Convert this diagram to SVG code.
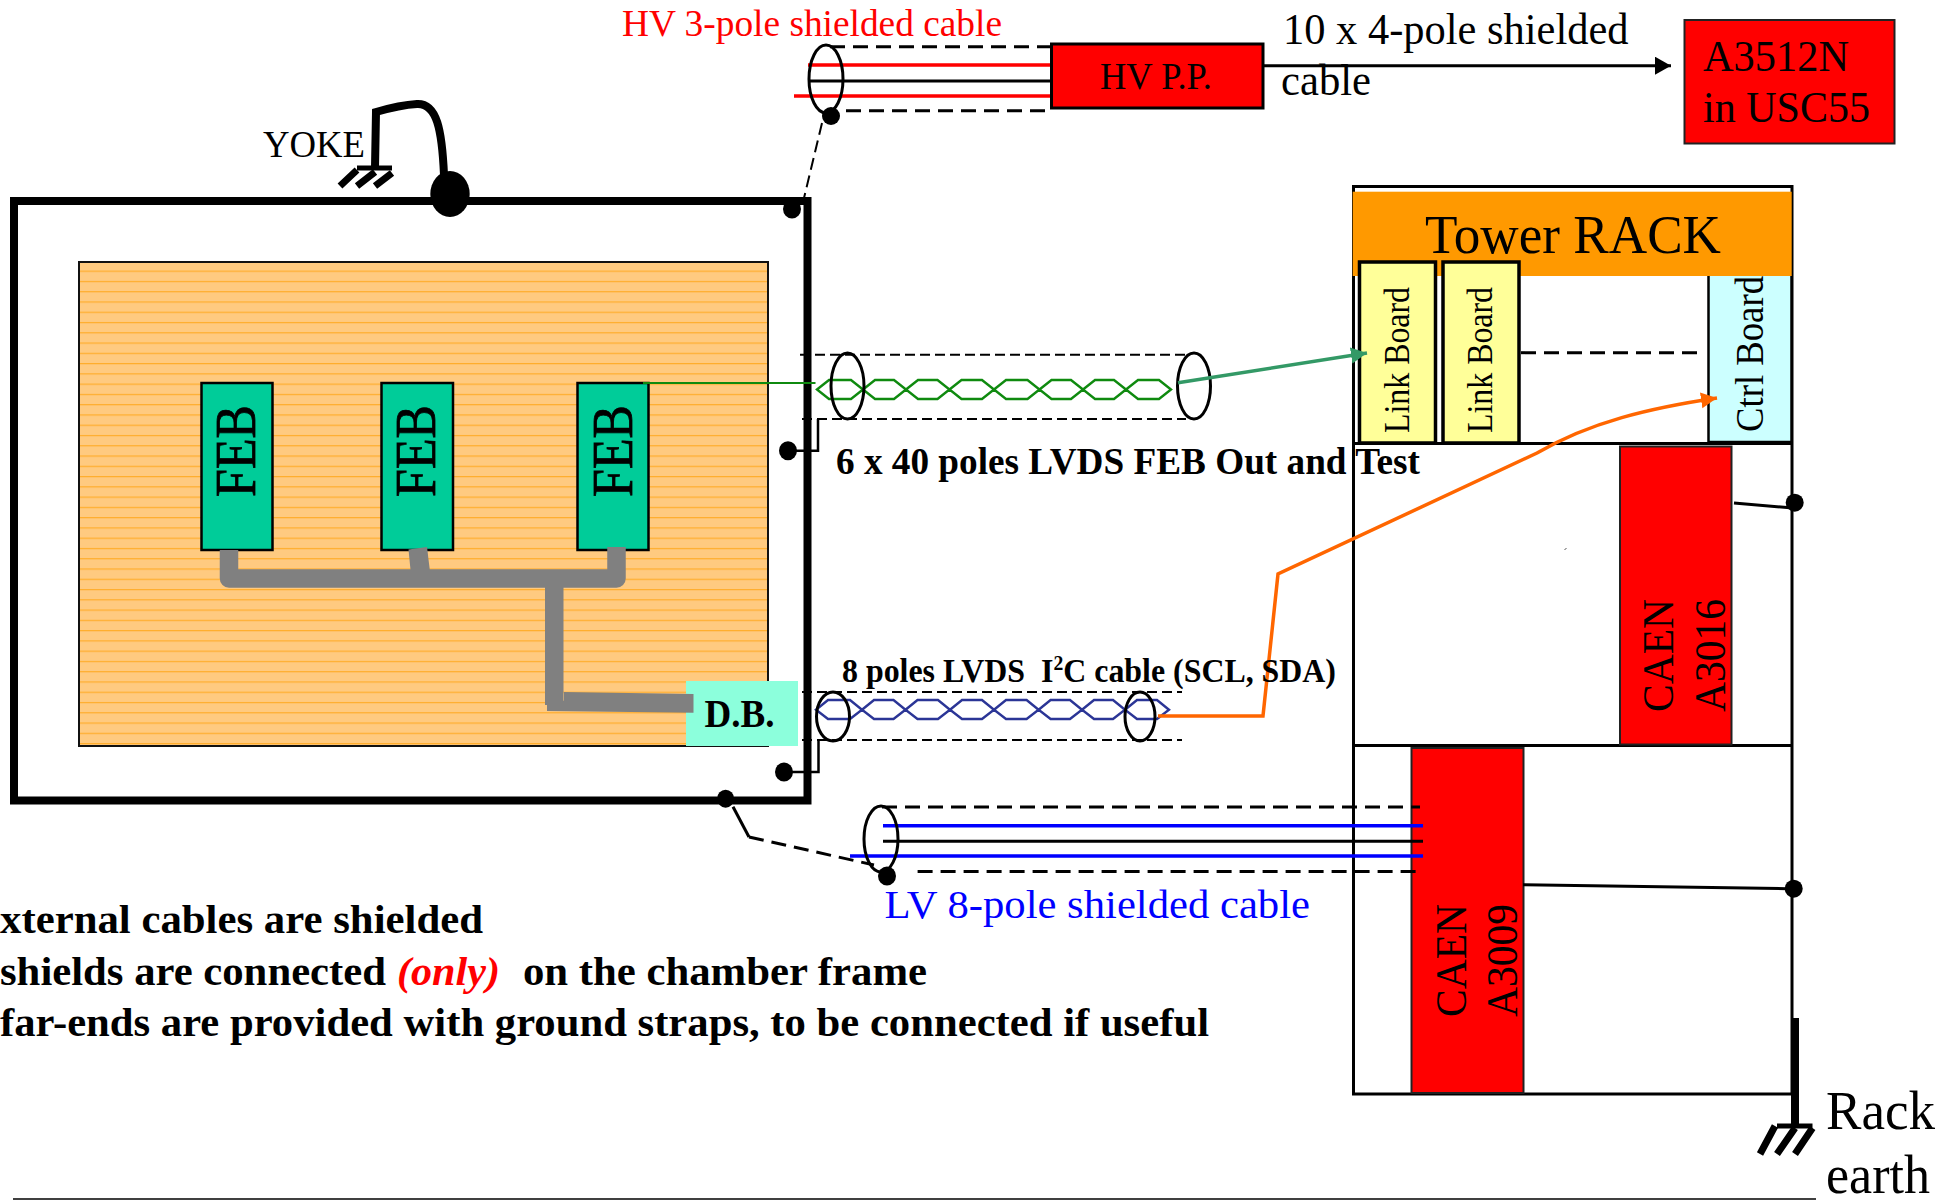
<svg xmlns="http://www.w3.org/2000/svg" width="1955" height="1200" viewBox="0 0 1955 1200">
<style>
text{font-family:"Liberation Serif","Times New Roman",serif;fill:#000}
.b{font-weight:bold}
.box{stroke:#000;stroke-width:3}
.red{fill:#f00;stroke:#222;stroke-width:2}
.feb{fill:#0c9;stroke:#000;stroke-width:2.5}
.febt{stroke:#000;stroke-width:.8}
.lb{fill:#ff9;stroke:#000;stroke-width:3.5}
.w{fill:none;stroke:#000;stroke-width:3}
.dash{fill:none;stroke:#000;stroke-width:3;stroke-dasharray:15 8}
.thin{fill:none;stroke:#000;stroke-width:2;stroke-dasharray:10 5}
.ell{fill:none;stroke:#000;stroke-width:3}
.gray{fill:none;stroke:#808080;stroke-width:18.5;stroke-linejoin:round}
.dot{fill:#000}
.hexg{fill:none;stroke:#0f8a0f;stroke-width:2.4;stroke-linejoin:miter}
.hexb{fill:none;stroke:#2b3596;stroke-width:2.4;stroke-linejoin:miter}
.gnd{fill:none;stroke:#000;stroke-width:7}
</style>
<defs>
<pattern id="stripes" patternUnits="userSpaceOnUse" x="0" y="270.6" width="20" height="10.27">
<rect width="20" height="10.27" fill="#ffca80"/>
<rect width="20" height="1.2" fill="#ffad2c"/>
</pattern>
<marker id="ah-k" markerUnits="userSpaceOnUse" markerWidth="18" markerHeight="20" refX="16" refY="9" orient="auto"><path d="M0 0L16 9L0 18Z" fill="#000"/></marker>
<marker id="ah-g" markerUnits="userSpaceOnUse" markerWidth="18" markerHeight="18" refX="16" refY="8" orient="auto"><path d="M0 0L16 8L0 16Z" fill="#396"/></marker>
<marker id="ah-o" markerUnits="userSpaceOnUse" markerWidth="18" markerHeight="18" refX="16" refY="8" orient="auto"><path d="M0 0L16 8L0 16Z" fill="#f60"/></marker>
</defs>
<rect width="1955" height="1200" fill="#fff"/>

<g id="chamber-frame"><rect x="14" y="201" width="793.5" height="599.5" fill="#fff" stroke="#000" stroke-width="8"/></g>
<g id="chamber-panel"><rect x="79" y="262" width="689" height="484" fill="url(#stripes)" stroke="#111" stroke-width="2"/></g>
<g id="feb-1"><rect class="feb" x="201.500" y="383" width="71" height="167"/><text class="febt" transform="translate(255,497) rotate(-90)" font-size="56" textLength="92" lengthAdjust="spacingAndGlyphs">FEB</text></g>
<g id="feb-2"><rect class="feb" x="381.500" y="383" width="71.500" height="167"/><text class="febt" transform="translate(434.500,497) rotate(-90)" font-size="56" textLength="92" lengthAdjust="spacingAndGlyphs">FEB</text></g>
<g id="feb-3"><rect class="feb" x="577.500" y="383" width="71" height="167"/><text class="febt" transform="translate(631.500,497) rotate(-90)" font-size="56" textLength="92" lengthAdjust="spacingAndGlyphs">FEB</text></g>
<g id="db"><rect x="686" y="681" width="112" height="65" fill="#8cffdc"/><text class="b" x="704.500" y="726.500" font-size="39" textLength="70" lengthAdjust="spacingAndGlyphs">D.B.</text></g>

<g id="hv-pp"><rect class="box" x="1051.500" y="44" width="211.500" height="64" fill="#f00" stroke-width="3.500"/><text x="1100" y="89" font-size="37" textLength="112" lengthAdjust="spacingAndGlyphs">HV P.P.</text></g>
<g id="a3512n"><rect class="red" x="1684.500" y="20" width="210" height="123.500" stroke="#000"/><text x="1703" y="70.500" font-size="44" textLength="146" lengthAdjust="spacingAndGlyphs">A3512N</text><text x="1703" y="121.500" font-size="44" textLength="167" lengthAdjust="spacingAndGlyphs">in USC55</text></g>

<g id="tower-rack"><rect x="1353.500" y="186.500" width="438.500" height="907.500" fill="#fff" stroke="#000" stroke-width="3"/><path class="w" d="M1353.500 443.500H1792M1353.500 745.500H1792"/></g>
<g id="ctrl-board"><rect x="1708.500" y="270" width="83" height="172" fill="#cff" stroke="#000" stroke-width="2.500"/><text transform="translate(1762.500,432) rotate(-90)" font-size="40" textLength="156" lengthAdjust="spacingAndGlyphs">Ctrl Board</text></g>
<g id="rack-header"><rect x="1352.700" y="191.700" width="439" height="84.300" fill="#f90"/><text x="1425" y="253" font-size="54" textLength="296" lengthAdjust="spacingAndGlyphs">Tower RACK</text></g>
<g id="link-board-1"><rect class="lb" x="1359.500" y="262" width="76" height="181"/><text transform="translate(1409,433) rotate(-90)" font-size="35" textLength="146" lengthAdjust="spacingAndGlyphs">Link Board</text></g>
<g id="link-board-2"><rect class="lb" x="1443" y="262" width="76" height="181"/><text transform="translate(1492,433) rotate(-90)" font-size="35" textLength="146" lengthAdjust="spacingAndGlyphs">Link Board</text></g>
<g id="caen-a3016"><rect class="red" x="1620" y="446.500" width="111.500" height="298"/><text transform="translate(1673,712) rotate(-90)" font-size="44" textLength="113" lengthAdjust="spacingAndGlyphs">CAEN</text><text transform="translate(1725,712) rotate(-90)" font-size="44" textLength="113" lengthAdjust="spacingAndGlyphs">A3016</text></g>
<g id="caen-a3009"><rect class="red" x="1411.500" y="748" width="112" height="345"/><text transform="translate(1465.500,1017) rotate(-90)" font-size="44" textLength="113" lengthAdjust="spacingAndGlyphs">CAEN</text><text transform="translate(1516.500,1017) rotate(-90)" font-size="44" textLength="113" lengthAdjust="spacingAndGlyphs">A3009</text></g>

<g id="yoke-ground">
<path d="M375 168L376 112Q400 105 417 104C437 103 442 130 444 175" fill="none" stroke="#000" stroke-width="8"/>
<path d="M357 168H392" fill="none" stroke="#000" stroke-width="5"/>
<path class="gnd" d="M357 170L340 186M375 172L357 186M392 173L375 186"/>
<ellipse class="dot" cx="450" cy="194" rx="19.700" ry="23"/>
<text x="263" y="157" font-size="38" textLength="102" lengthAdjust="spacingAndGlyphs">YOKE</text>
</g>
<g id="rack-earth">
<path d="M1795 1018V1124" fill="none" stroke="#000" stroke-width="8"/>
<path d="M1777 1126H1812.500" fill="none" stroke="#000" stroke-width="5"/>
<path class="gnd" d="M1775 1126L1760 1154M1795 1128L1777 1154M1812.500 1128L1795 1154"/>
<text x="1826" y="1129" font-size="54" textLength="109" lengthAdjust="spacingAndGlyphs">Rack</text>
<text x="1826" y="1192.500" font-size="54" textLength="104" lengthAdjust="spacingAndGlyphs">earth</text>
</g>

<g id="connectors">
<path class="gray" d="M229 550V578.500H616.500V547"/>
<path d="M408.500 549.500L427 547L431 580H411.500Z" fill="#808080"/>
<path class="gray" d="M554.250 585V705"/>
<path d="M547 700.700V711L693.500 712.700V694L564 692V700.700Z" fill="#808080"/>

<!-- HV cable -->
<path class="dash" d="M830 46.700H1050M846 110.700H1050"/>
<path d="M808 65H1050M794 96H1050" fill="none" stroke="#f00" stroke-width="3.500"/>
<path class="w" d="M808 81H1050"/>
<ellipse class="ell" cx="826" cy="79" rx="17" ry="34"/>
<ellipse class="dot" cx="831" cy="116" rx="9" ry="9"/>
<path d="M822 123L804 198" fill="none" stroke="#000" stroke-width="2" stroke-dasharray="12 6"/>
<ellipse class="dot" cx="792" cy="209" rx="9" ry="9.500"/>
<path class="w" d="M1264 65.700H1671" marker-end="url(#ah-k)"/>

<!-- FEB out cable -->
<path d="M643 383H815.500" fill="none" stroke="#0f8a0f" stroke-width="2"/>
<path class="thin" d="M800 354.700H1186M802 419H1186"/>
<path class="hexg" d="M817 389.500L829 380H851L863 389.500L851 399H829ZM863 389.500L875 380H894L906 389.500L894 399H875ZM906 389.500L918 380H937.500L949.500 389.500L937.500 399H918ZM949.500 389.500L961.500 380H982L994 389.500L982 399H961.500ZM994 389.500L1006 380H1027.500L1039.500 389.500L1027.500 399H1006ZM1039.500 389.500L1051.500 380H1071L1083 389.500L1071 399H1051.500ZM1083 389.500L1095 380H1114L1126 389.500L1114 399H1095ZM1126 389.500L1138 380H1159L1171 389.500L1159 399H1138Z"/>
<ellipse class="ell" cx="847.500" cy="386" rx="16.500" ry="33"/>
<ellipse class="ell" cx="1194" cy="386" rx="16.500" ry="33"/>
<path d="M1178 382.700L1367 353" fill="none" stroke="#396" stroke-width="3.500" marker-end="url(#ah-g)"/>
<path d="M818 419V450.700H788" fill="none" stroke="#000" stroke-width="2.500"/>
<ellipse class="dot" cx="788" cy="450.700" rx="9" ry="9.500"/>

<!-- I2C cable -->
<path class="thin" d="M802 692H1182M802 740H1182"/>
<path class="hexb" d="M816 709.700L828 700H850L862 709.700L850 719H828ZM862 709.700L874 700H893.500L905.500 709.700L893.500 719H874ZM905.500 709.700L917.500 700H938L950 709.700L938 719H917.500ZM950 709.700L962 700H982L994 709.700L982 719H962ZM994 709.700L1006 700H1026.600L1038.600 709.700L1026.600 719H1006ZM1038.600 709.700L1050.600 700H1070L1082 709.700L1070 719H1050.600ZM1082 709.700L1094 700H1113L1125 709.700L1113 719H1094ZM1125 709.700L1137 700H1157L1169 709.700L1157 719H1137Z"/>
<ellipse class="ell" cx="833" cy="716.500" rx="16.500" ry="24.500"/>
<ellipse class="ell" cx="1140" cy="716.500" rx="15" ry="24.500"/>
<path d="M1158 716H1263L1278 574L1537 453C1590 422 1650 408 1717 398" fill="none" stroke="#f60" stroke-width="3.500" marker-end="url(#ah-o)"/>
<path d="M818.500 740V772H784" fill="none" stroke="#000" stroke-width="2.500"/>
<ellipse class="dot" cx="784" cy="772" rx="9" ry="9.500"/>

<!-- LV cable -->
<path class="dash" d="M882 807H1420M917.600 871.500H1420"/>
<path d="M883 825.700H1423M850 856H1423" fill="none" stroke="#00f" stroke-width="3.500"/>
<path class="w" d="M883 841.300H1423"/>
<ellipse class="ell" cx="881" cy="839" rx="17" ry="33"/>
<ellipse class="dot" cx="887" cy="876" rx="9" ry="9.500"/>
<ellipse class="dot" cx="725.600" cy="798.700" rx="8.500" ry="9"/>
<path class="w" d="M733 806.700L749 837"/>
<path class="dash" d="M749 837L874 865"/>

<!-- rack internals -->
<path class="dash" d="M1521 352.700H1697"/>
<path class="w" d="M1734 503L1793 508"/>
<ellipse class="dot" cx="1794.700" cy="502.700" rx="9" ry="9"/>
<path class="w" d="M1523 884.700L1787 888.700"/>
<ellipse class="dot" cx="1793.700" cy="888.700" rx="9" ry="9"/>
<path d="M1564.500 550L1566.500 548" fill="none" stroke="#555" stroke-width="1"/>
<path d="M13 1199H1816" fill="none" stroke="#000" stroke-width="1.500"/>
</g>

<g id="labels">
<text x="622" y="36" font-size="38" style="fill:#f00" textLength="380" lengthAdjust="spacingAndGlyphs">HV 3-pole shielded cable</text>
<text x="1283" y="44" font-size="44" textLength="345.500" lengthAdjust="spacingAndGlyphs">10 x 4-pole shielded</text>
<text x="1281" y="95" font-size="44" textLength="90" lengthAdjust="spacingAndGlyphs">cable</text>
<text class="b" x="836" y="474" font-size="37" textLength="584" lengthAdjust="spacingAndGlyphs">6 x 40 poles LVDS FEB Out and Test</text>
<text class="b" x="842" y="682" font-size="34" xml:space="preserve" textLength="494" lengthAdjust="spacingAndGlyphs">8 poles LVDS  I<tspan font-size="21" dy="-12">2</tspan><tspan dy="12">C cable (SCL, SDA)</tspan></text>
<text x="884.600" y="918" font-size="41" style="fill:#00f" textLength="425.400" lengthAdjust="spacingAndGlyphs">LV 8-pole shielded cable</text>
<text class="b" x="0" y="932.500" font-size="41" textLength="483" lengthAdjust="spacingAndGlyphs">xternal cables are shielded</text>
<text class="b" x="0" y="984.500" font-size="41" textLength="386" lengthAdjust="spacingAndGlyphs">shields are connected</text>
<text class="b" x="397" y="984.500" font-size="41" font-style="italic" style="fill:#f00" textLength="103" lengthAdjust="spacingAndGlyphs">(only)</text>
<text class="b" x="523" y="984.500" font-size="41" textLength="404" lengthAdjust="spacingAndGlyphs">on the chamber frame</text>
<text class="b" x="0" y="1036" font-size="41" textLength="1209" lengthAdjust="spacingAndGlyphs">far-ends are provided with ground straps, to be connected if useful</text>
</g>
</svg>
